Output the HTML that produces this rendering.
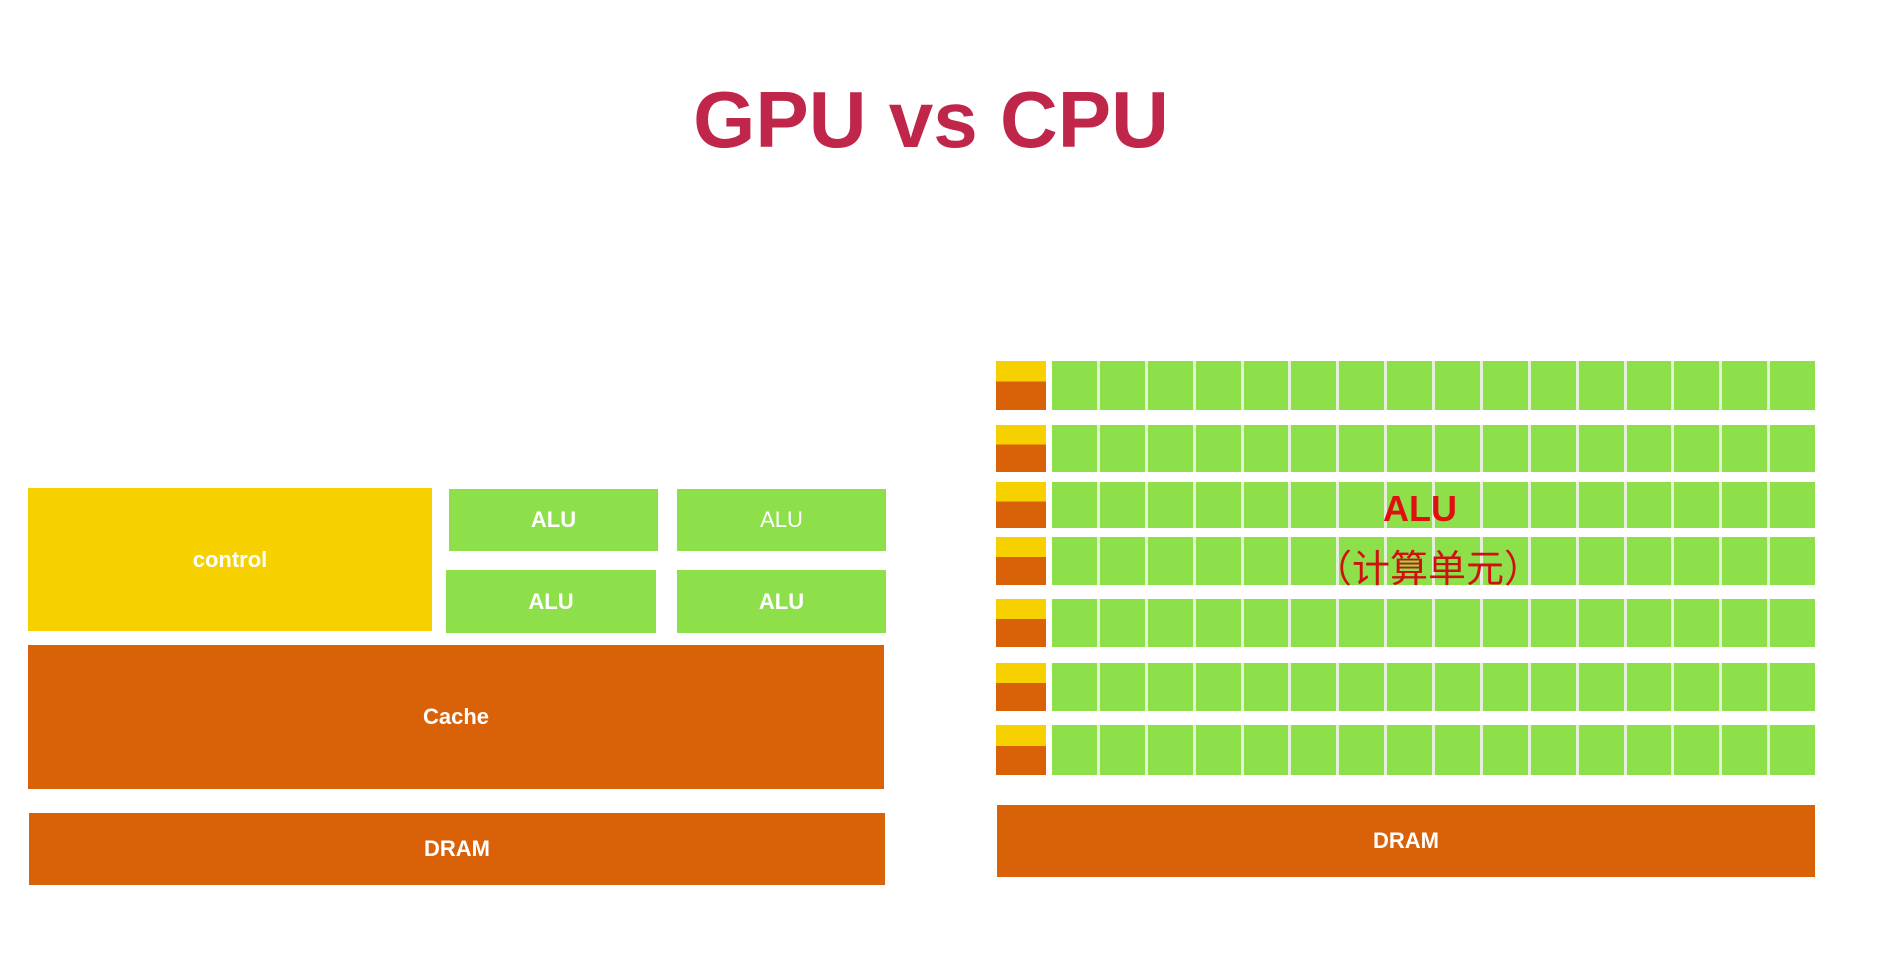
<!DOCTYPE html>
<html><head><meta charset="utf-8"><style>
body{margin:0;width:1883px;height:960px;background:#fff;position:relative;overflow:hidden;font-family:"Liberation Sans","Noto Sans CJK SC",sans-serif}
.b{position:absolute;display:flex;align-items:center;justify-content:center;color:#fff;font-weight:bold;font-size:22px}
.y{background:#f7d000}.o{background:#d96209}.g{background:#8ee04a}
.row{position:absolute;left:1052px;width:763px;display:grid;grid-template-columns:repeat(16,1fr);gap:3px;background:#e4f0dc}
.row div{background:#8ee04a}
.sm{position:absolute;left:996px;width:50px;background:linear-gradient(#f7d000 0 42%,#d96209 42%)}
</style></head><body>
<div style="position:absolute;left:0;width:1862px;top:74px;text-align:center;font-size:80px;font-weight:bold;color:#c0254a">GPU vs CPU</div>

<div class="b y" style="left:28px;top:488px;width:404px;height:143px">control</div>
<div class="b g" style="left:449px;top:489px;width:209px;height:62px">ALU</div>
<div class="b g" style="left:677px;top:489px;width:209px;height:62px;font-weight:normal">ALU</div>
<div class="b g" style="left:446px;top:570px;width:210px;height:63px">ALU</div>
<div class="b g" style="left:677px;top:570px;width:209px;height:63px">ALU</div>
<div class="b o" style="left:28px;top:645px;width:856px;height:144px">Cache</div>
<div class="b o" style="left:29px;top:813px;width:856px;height:72px">DRAM</div>

<div class="sm" style="top:361px;height:49px"></div><div class="row" style="top:361px;height:49px"><div></div><div></div><div></div><div></div><div></div><div></div><div></div><div></div><div></div><div></div><div></div><div></div><div></div><div></div><div></div><div></div></div>
<div class="sm" style="top:425px;height:47px"></div><div class="row" style="top:425px;height:47px"><div></div><div></div><div></div><div></div><div></div><div></div><div></div><div></div><div></div><div></div><div></div><div></div><div></div><div></div><div></div><div></div></div>
<div class="sm" style="top:482px;height:46px"></div><div class="row" style="top:482px;height:46px"><div></div><div></div><div></div><div></div><div></div><div></div><div></div><div></div><div></div><div></div><div></div><div></div><div></div><div></div><div></div><div></div></div>
<div class="sm" style="top:537px;height:48px"></div><div class="row" style="top:537px;height:48px"><div></div><div></div><div></div><div></div><div></div><div></div><div></div><div></div><div></div><div></div><div></div><div></div><div></div><div></div><div></div><div></div></div>
<div class="sm" style="top:599px;height:48px"></div><div class="row" style="top:599px;height:48px"><div></div><div></div><div></div><div></div><div></div><div></div><div></div><div></div><div></div><div></div><div></div><div></div><div></div><div></div><div></div><div></div></div>
<div class="sm" style="top:663px;height:48px"></div><div class="row" style="top:663px;height:48px"><div></div><div></div><div></div><div></div><div></div><div></div><div></div><div></div><div></div><div></div><div></div><div></div><div></div><div></div><div></div><div></div></div>
<div class="sm" style="top:725px;height:50px"></div><div class="row" style="top:725px;height:50px"><div></div><div></div><div></div><div></div><div></div><div></div><div></div><div></div><div></div><div></div><div></div><div></div><div></div><div></div><div></div><div></div></div>

<div style="position:absolute;left:1220px;width:400px;top:488px;text-align:center;color:#e01010;font-weight:bold;font-size:36px">ALU</div>
<div style="position:absolute;left:1228px;width:400px;top:538px;text-align:center;color:#d01010;font-size:38px">（计算单元）</div>

<div class="b o" style="left:997px;top:805px;width:818px;height:72px">DRAM</div>
</body></html>
